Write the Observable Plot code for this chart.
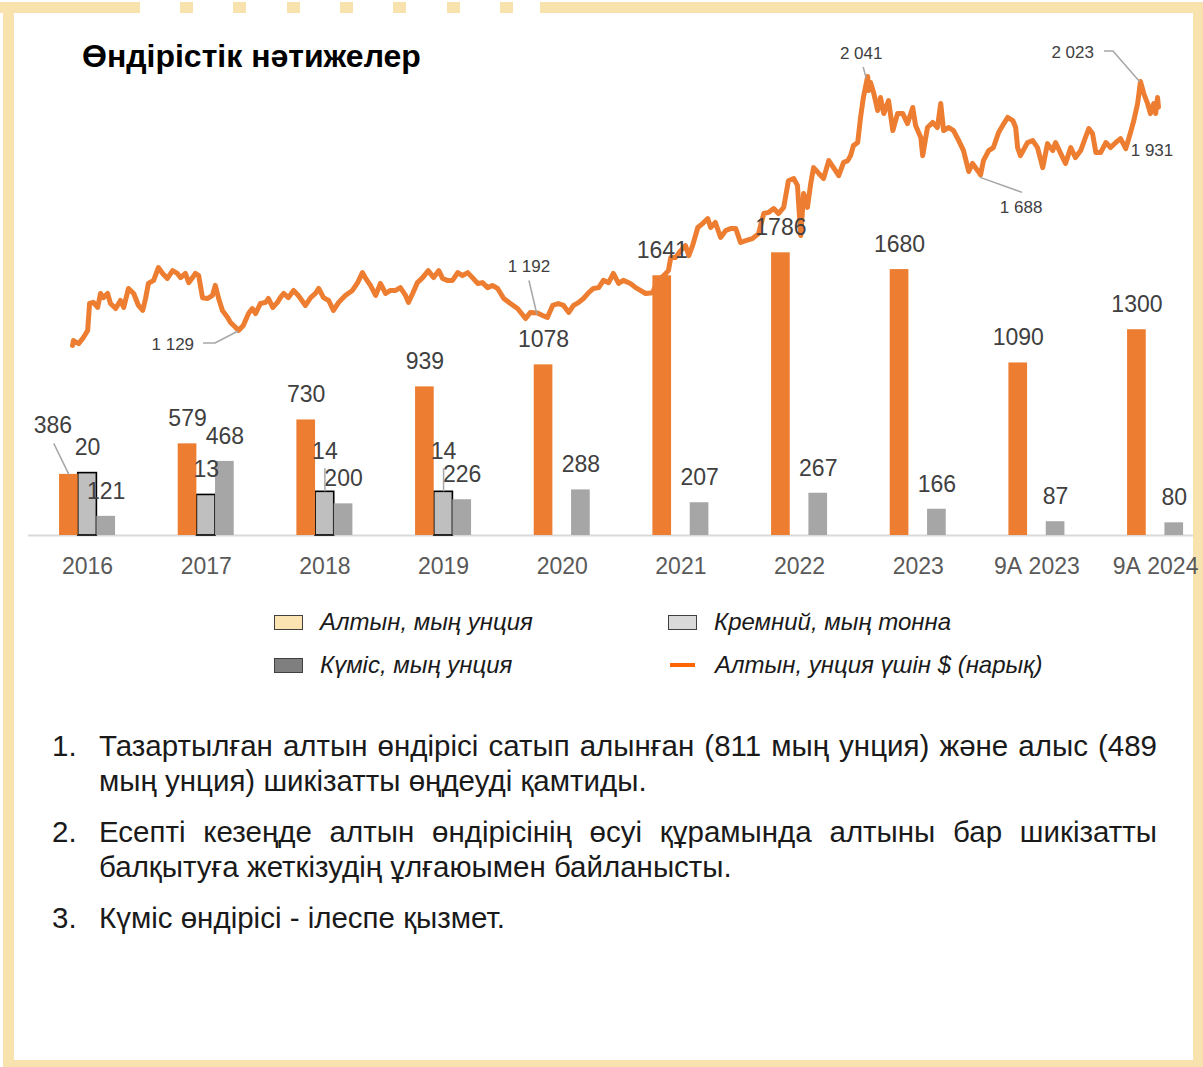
<!DOCTYPE html>
<html>
<head>
<meta charset="utf-8">
<script src="https://cdn.jsdelivr.net/npm/d3@7"></script>
<script src="https://cdn.jsdelivr.net/npm/@observablehq/plot@0.6"></script>
<style>
html,body{margin:0;padding:0;background:#fff;overflow:hidden;}
#page{position:relative;width:1203px;height:1067px;font-family:"Liberation Sans",Arial,sans-serif;background:#fff;}
.bd{position:absolute;background:#F8E3AF;}
.layer{position:absolute;left:0;top:0;width:1203px;height:600px;}
.layer svg{overflow:visible;}
#title{position:absolute;left:82px;top:40px;font-size:32px;line-height:32px;font-weight:bold;color:#000;white-space:nowrap;}
.lg{position:absolute;display:flex;align-items:center;height:30px;font-style:italic;font-size:24px;color:#1a1a1a;white-space:nowrap;}
.sw{width:29px;height:15px;box-sizing:border-box;border:1.2px solid #404040;margin-right:17px;}
.ln{width:25px;height:4px;background:#FF6600;margin-right:20px;}
#notes{position:absolute;left:52px;top:728px;width:1105px;font-size:29.5px;line-height:35px;color:#1a1a1a;}
.item{position:relative;padding-left:47px;margin-bottom:16px;}
.num{position:absolute;left:0;top:0;}
.just{display:block;text-align:justify;text-align-last:justify;white-space:nowrap;}
.rest{display:block;white-space:nowrap;}
</style>
</head>
<body>
<div id="page">
  <!-- frame -->
  <div class="bd" style="left:0;top:2px;width:140px;height:11px"></div>
  <div class="bd" style="left:180px;top:2px;width:334px;height:11px;background:repeating-linear-gradient(90deg,#F8E3AF 0 13px,transparent 13px 53.33px)"></div>
  <div class="bd" style="left:540px;top:2px;width:663px;height:11px"></div>
  <div class="bd" style="left:3px;top:2px;width:11px;height:1065px"></div>
  <div class="bd" style="left:1193px;top:2px;width:10px;height:1065px"></div>
  <div class="bd" style="left:3px;top:1060px;width:1200px;height:7px"></div>

  <div id="title">Өндірістік нәтижелер</div>

  <div id="price" class="layer"></div>
  <div id="silver" class="layer"></div>
  <div id="bars" class="layer"></div>
  <div id="silverLabels" class="layer"></div>

  <div id="legend"></div>
  <div id="notes"></div>
</div>
<script>
// ---------------- data ----------------
const categories = ["2016","2017","2018","2019","2020","2021","2022","2023","9А 2023","9А 2024"];
const goldKoz    = [386, 579, 730, 939, 1078, 1641, 1786, 1680, 1090, 1300];   // Алтын, мың унция
const silverKoz  = [20, 13, 14, 14, null, null, null, null, null, null];       // Күміс, мың унция
const siliconKt  = [121, 468, 200, 226, 288, 207, 267, 166, 87, 80];           // Кремний, мың тонна

const seriesNames = ["Алтын, мың унция", "Күміс, мың унция", "Кремний, мың тонна", "Алтын, унция үшін $ (нарық)"];

const goldPriceUsd = [
["2016-01-04",1075],["2016-01-06",1093],["2016-01-17",1082],["2016-01-27",1104],["2016-02-05",1129],["2016-02-09",1226],["2016-02-17",1230],["2016-02-26",1212],["2016-03-03",1262],["2016-03-09",1247],["2016-03-18",1262],["2016-03-24",1226],["2016-04-04",1208],["2016-04-14",1237],["2016-04-21",1212],["2016-05-01",1280],["2016-05-12",1262],["2016-05-22",1219],["2016-05-31",1201],["2016-06-06",1244],["2016-06-12",1298],["2016-06-23",1309],["2016-07-03",1355],["2016-07-12",1334],["2016-07-22",1316],["2016-08-02",1344],["2016-08-12",1334],["2016-08-19",1319],["2016-08-29",1334],["2016-09-05",1301],["2016-09-13",1319],["2016-09-19",1334],["2016-09-26",1326],["2016-10-04",1247],["2016-10-15",1244],["2016-10-25",1255],["2016-10-31",1291],["2016-11-07",1244],["2016-11-15",1201],["2016-11-26",1176],["2016-12-02",1158],["2016-12-13",1140],["2016-12-19",1129],["2016-12-29",1147],
["2017-01-09",1190],["2017-01-17",1208],["2017-01-24",1190],["2017-02-03",1226],["2017-02-14",1230],["2017-02-20",1244],["2017-03-01",1212],["2017-03-11",1230],["2017-03-17",1247],["2017-03-24",1262],["2017-04-03",1247],["2017-04-14",1273],["2017-04-24",1255],["2017-05-09",1219],["2017-05-20",1247],["2017-05-30",1262],["2017-06-06",1280],["2017-06-16",1247],["2017-06-27",1237],["2017-07-07",1201],["2017-07-18",1230],["2017-08-01",1255],["2017-08-16",1273],["2017-08-27",1301],["2017-09-06",1337],["2017-09-13",1316],["2017-09-23",1291],["2017-10-04",1255],["2017-10-14",1298],["2017-10-25",1262],["2017-11-04",1273],["2017-11-15",1273],["2017-11-25",1283],["2017-12-06",1255],["2017-12-12",1230],["2017-12-21",1262],["2017-12-31",1301],
["2018-01-11",1319],["2018-01-23",1344],["2018-02-03",1319],["2018-02-14",1344],["2018-02-22",1316],["2018-03-04",1309],["2018-03-15",1309],["2018-03-26",1337],["2018-04-05",1326],["2018-04-16",1337],["2018-04-26",1319],["2018-05-07",1298],["2018-05-17",1301],["2018-05-28",1283],["2018-06-07",1291],["2018-06-18",1280],["2018-07-01",1244],["2018-07-15",1226],["2018-07-30",1208],["2018-08-16",1172],["2018-08-26",1194],["2018-09-10",1192],["2018-09-21",1183],["2018-10-01",1176],["2018-10-12",1219],["2018-10-24",1226],["2018-11-04",1219],["2018-11-15",1194],["2018-11-25",1219],["2018-12-06",1230],["2018-12-16",1244],["2018-12-27",1265],
["2019-01-06",1280],["2019-01-17",1283],["2019-01-27",1309],["2019-02-07",1301],["2019-02-17",1334],["2019-02-28",1298],["2019-03-10",1309],["2019-03-25",1298],["2019-04-05",1283],["2019-04-15",1273],["2019-04-26",1262],["2019-05-11",1265],["2019-05-21",1309],["2019-06-03",1326],["2019-06-13",1344],["2019-06-18",1391],["2019-06-28",1391],["2019-07-09",1416],["2019-07-19",1434],["2019-07-26",1398],["2019-08-03",1434],["2019-08-14",1499],["2019-08-24",1513],["2019-09-04",1531],["2019-09-10",1499],["2019-09-20",1517],["2019-10-01",1463],["2019-10-12",1488],["2019-10-22",1495],["2019-11-02",1495],["2019-11-12",1445],["2019-11-23",1452],["2019-12-07",1459],["2019-12-20",1477],["2019-12-31",1549],
["2020-01-10",1553],["2020-01-21",1567],["2020-01-31",1549],["2020-02-11",1571],["2020-02-21",1667],["2020-03-03",1675],["2020-03-11",1650],["2020-03-18",1470],["2020-03-24",1621],["2020-04-01",1571],["2020-04-08",1657],["2020-04-14",1714],["2020-04-25",1693],["2020-05-05",1675],["2020-05-16",1739],["2020-05-26",1714],["2020-06-06",1685],["2020-06-16",1732],["2020-06-25",1739],["2020-07-01",1757],["2020-07-07",1793],["2020-07-16",1804],["2020-07-22",1894],["2020-07-28",1966],["2020-08-06",2041],["2020-08-08",1991],["2020-08-12",2020],["2020-08-19",1980],["2020-08-27",1919],["2020-09-02",1966],["2020-09-09",1908],["2020-09-19",1955],["2020-09-28",1847],["2020-10-08",1908],["2020-10-19",1908],["2020-10-29",1872],["2020-11-09",1930],["2020-11-15",1865],["2020-11-26",1822],["2020-11-30",1757],["2020-12-10",1858],["2020-12-21",1876],["2020-12-31",1858],
["2021-01-07",1944],["2021-01-13",1847],["2021-01-24",1858],["2021-02-03",1847],["2021-02-14",1811],["2021-02-24",1775],["2021-03-05",1714],["2021-03-07",1700],["2021-03-15",1729],["2021-03-26",1703],["2021-04-01",1688],["2021-04-07",1739],["2021-04-18",1775],["2021-04-28",1786],["2021-05-09",1840],["2021-05-20",1872],["2021-05-28",1894],["2021-06-08",1883],["2021-06-14",1858],["2021-06-18",1786],["2021-06-24",1757],["2021-07-09",1804],["2021-07-20",1811],["2021-07-30",1786],["2021-08-10",1714],["2021-08-20",1800],["2021-08-31",1775],["2021-09-06",1804],["2021-09-17",1764],["2021-09-27",1729],["2021-10-08",1786],["2021-10-18",1750],["2021-10-29",1775],["2021-11-08",1822],["2021-11-15",1854],["2021-11-23",1836],["2021-11-30",1768],["2021-12-10",1768],["2021-12-21",1804],["2021-12-31",1786],
["2022-01-11",1804],["2022-01-21",1818],["2022-02-01",1782],["2022-02-11",1840],["2022-02-18",1883],["2022-02-26",1944],["2022-03-04",2023],["2022-03-11",1980],["2022-03-19",1944],["2022-03-25",1908],["2022-04-01",1944],["2022-04-05",1908],["2022-04-09",1966],["2022-04-11",1931]
];

// annotated points of the market price line
const priceNotes = [["2016-12-19",1129],["2018-09-10",1192],["2020-08-06",2041],["2021-04-01",1688],["2022-03-04",2023],["2022-04-11",1931]];

const footnotes = [
  ["Тазартылған алтын өндірісі сатып алынған (811 мың унция) және алыс (489", "мың унция) шикізатты өңдеуді қамтиды."],
  ["Есепті кезеңде алтын өндірісінің өсуі құрамында алтыны бар шикізатты", "балқытуға жеткізудің ұлғаюымен байланысты."],
  ["Күміс өндірісі - ілеспе қызмет."]
];

// ---------------- shared layout ----------------
const FONT = "Liberation Sans, Arial, sans-serif";
const W = 1203, H = 600, MB = 65;
const fmtSpace = v => String(v).replace(/\B(?=(\d{3})+(?!\d))/g, " ");
const leaderShape = {draw(context, l) { context.moveTo(0, 0); context.lineTo(0, -l); }};

// ---------------- market price line ----------------
const priceTable = goldPriceUsd.map(([d, v]) => ({date: new Date(d), value: v}));
const noteTable = priceNotes.map(([d, v]) => ({date: new Date(d), value: v}));
const noteLayout = {
  1129: {dx: -44, dy: 14, anchor: "end",    leader: [[0, 1], [-23, 13], [-35, 13]]},
  1192: {dx: -8,  dy: -46, anchor: "middle", leader: [[0, 2], [-8, -32]]},
  2041: {dx: -6,  dy: -23, anchor: "middle", leader: [[-1, 2], [-4, -9]]},
  1688: {dx: 41,  dy: 33, anchor: "middle", leader: [[0, 3], [42, 18]]},
  2023: {dx: -46, dy: -29, anchor: "end",    leader: [[0, 1], [-27, -30], [-36, -30]]},
  1931: {dx: -6,  dy: 43, anchor: "middle", leader: null}
};

const pricePlot = Plot.plot({
  width: W, height: H, marginLeft: 72, marginRight: 45, marginTop: 0, marginBottom: MB,
  style: {fontFamily: FONT, background: "transparent", overflow: "visible"},
  x: {type: "utc", domain: d3.extent(priceTable, d => d.date), axis: null},
  y: {domain: [393, 2314], axis: null},
  marks: [
    Plot.line(priceTable, {x: "date", y: "value", stroke: "#ED7D31", strokeWidth: 5, strokeLinejoin: "round", strokeLinecap: "round"}),
    (index, scales) => {
      const g = d3.create("svg:g");
      for (const n of noteTable) {
        const px = scales.x(n.date), py = scales.y(n.value);
        const L = noteLayout[n.value];
        if (L.leader) {
          g.append("polyline")
            .attr("points", L.leader.map(([a, b]) => `${px + a},${py + b}`).join(" "))
            .attr("fill", "none").attr("stroke", "#A6A6A6").attr("stroke-width", 1.5);
        }
        g.append("text")
          .attr("x", px + L.dx).attr("y", py + L.dy).attr("dy", "0.35em")
          .attr("text-anchor", L.anchor).attr("font-size", 17).attr("fill", "#404040")
          .attr("font-family", FONT)
          .text(fmtSpace(n.value));
      }
      return g.node();
    }
  ]
});
document.getElementById("price").append(pricePlot);

// ---------------- silver bars (own scale), baseline and category axis ----------------
const silverTable = categories.map((c, i) => ({category: c, value: silverKoz[i]})).filter(d => d.value != null);
const raisedSilver = d => d.category === categories[2] || d.category === categories[3];
const silverPlotOptions = (axis, marks) => ({
  width: W, height: H, marginLeft: 28, marginRight: 10, marginTop: 0, marginBottom: MB,
  style: {fontFamily: FONT, fontSize: "23px", color: "#595959", background: "transparent", overflow: "visible"},
  x: {type: "band", domain: categories, paddingInner: 0.8427, paddingOuter: 0.3299, align: 0.635, round: false,
      tickSize: 0, tickPadding: 22, label: null, axis: axis ? "bottom" : null},
  y: {domain: [0, 171.5], axis: null},
  marks
});

const silverPlot = Plot.plot(silverPlotOptions(true, [
  Plot.ruleY([0], {stroke: "#D9D9D9", strokeWidth: 2}),
  Plot.barY(silverTable, {x: "category", y: "value", fill: "#BFBFBF", stroke: "#000", strokeWidth: 1.6})
]));
document.getElementById("silver").append(silverPlot);

// ---------------- gold & silicon bars (faceted by category) ----------------
const barTable = categories.flatMap((c, i) => [
  {category: c, series: seriesNames[0], value: goldKoz[i]},
  {category: c, series: seriesNames[2], value: siliconKt[i]}
]);
const isGold2016 = d => d.series === seriesNames[0] && d.category === categories[0];

const barPlot = Plot.plot({
  width: W, height: H, marginLeft: 28, marginRight: 10, marginTop: 0, marginBottom: MB,
  style: {fontFamily: FONT, background: "transparent", overflow: "visible"},
  facet: {data: barTable, x: "category"},
  fx: {domain: categories, paddingInner: 0.528, paddingOuter: 0.1725, align: 0.758, round: false, axis: null, label: null},
  x: {type: "band", domain: [seriesNames[0], seriesNames[1], seriesNames[2]], padding: 0, round: false, axis: null},
  y: {domain: [0, 3380], axis: null},
  color: {domain: [seriesNames[0], seriesNames[2]], range: ["#ED7D31", "#A6A6A6"]},
  marks: [
    Plot.barY(barTable, {x: "series", y: "value", fill: "series", inset: 0}),
    Plot.text(barTable, {filter: d => !isGold2016(d), x: "series", y: "value", text: d => String(d.value), dy: -25, fontSize: 23, fill: "#404040"}),
    Plot.text(barTable, {filter: isGold2016, x: "series", y: "value", text: d => String(d.value), dx: -16, dy: -49, fontSize: 23, fill: "#404040"}),
    Plot.vector(barTable, {filter: isGold2016, x: "series", y: "value", length: 34, rotate: -26, anchor: "start", shape: leaderShape, stroke: "#A6A6A6", strokeWidth: 1.5})
  ]
});
document.getElementById("bars").append(barPlot);

// ---------------- silver labels on top of every bar ----------------
const silverLabelPlot = Plot.plot(silverPlotOptions(false, [
  Plot.text(silverTable, {filter: d => !raisedSilver(d), x: "category", y: "value", text: d => String(d.value), dy: -25, fontSize: 23, fill: "#404040"}),
  Plot.text(silverTable, {filter: raisedSilver, x: "category", y: "value", text: d => String(d.value), dy: -40, fontSize: 23, fill: "#404040"}),
  Plot.ruleX(silverTable, {filter: raisedSilver, x: "category", y1: "value", y2: "value", insetTop: -23, stroke: "#A6A6A6", strokeWidth: 1.5})
]));
document.getElementById("silverLabels").append(silverLabelPlot);

// ---------------- legend ----------------
const legendItems = [
  {name: seriesNames[0], kind: "box", fill: "#FBE4B2", left: 274, cy: 622},
  {name: seriesNames[2], kind: "box", fill: "#D9D9D9", left: 668, cy: 622},
  {name: seriesNames[1], kind: "box", fill: "#7F7F7F", left: 274, cy: 665},
  {name: seriesNames[3], kind: "line", fill: "#FF6600", left: 670, cy: 665}
];
const legend = document.getElementById("legend");
for (const it of legendItems) {
  const el = document.createElement("div");
  el.className = "lg";
  el.style.left = it.left + "px";
  el.style.top = (it.cy - 15) + "px";
  const sw = document.createElement("span");
  sw.className = it.kind === "box" ? "sw" : "ln";
  sw.style.background = it.fill;
  el.append(sw, document.createTextNode(it.name));
  legend.append(el);
}

// ---------------- footnotes ----------------
const notes = document.getElementById("notes");
footnotes.forEach((lines, i) => {
  const item = document.createElement("div");
  item.className = "item";
  const num = document.createElement("span");
  num.className = "num";
  num.textContent = (i + 1) + ".";
  item.append(num);
  lines.forEach((t, j) => {
    const s = document.createElement("span");
    s.className = (j === 0 && lines.length > 1) ? "just" : "rest";
    s.textContent = t;
    item.append(s);
  });
  notes.append(item);
});
</script>
</body>
</html>
